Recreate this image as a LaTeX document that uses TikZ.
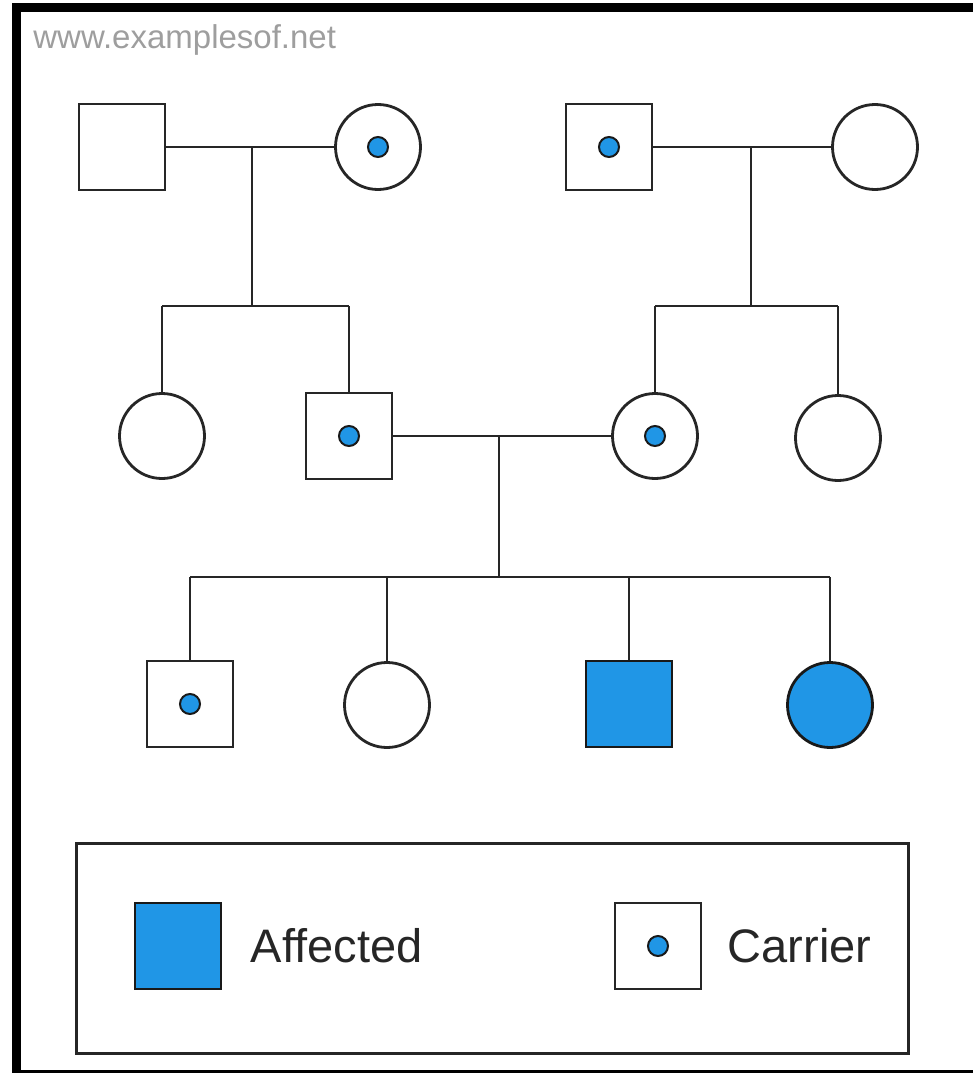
\documentclass[tikz,border=0pt]{standalone}
\usepackage{fontspec}
\setmainfont{Liberation Sans}
\usetikzlibrary{positioning}
\definecolor{affblue}{RGB}{32,150,230}

\begin{document}
\begin{tikzpicture}[x=1pt,y=-1pt,line width=2.8pt,draw=black!85,
  male/.style={rectangle,draw,minimum size=86pt,inner sep=0pt},
  female/.style={circle,draw,minimum size=85pt,inner sep=0pt},
  affected/.style={fill=affblue,draw=black!90},
  carrier/.style={path picture={\filldraw[fill=affblue,draw=black!90,line width=2pt]
    (path picture bounding box.center) circle (10pt);}},
  key/.style={font=\fontsize{47}{52}\selectfont,inner sep=0pt,text=black!85}]
  \useasboundingbox (0,0) rectangle (972,1073);
  \draw[black,line width=9pt] (16.5,7.5) rectangle (990,1074.5);
  \node[anchor=west,inner sep=0pt,text=black!38,font=\fontsize{33}{36}\selectfont] (web) at (32,40) {www.examplesof.net};

  % first generation
  \node[male] (GF1) at (122,147) {};
  \node[female,carrier] (GM1) at (378,147) {};
  \node[male,carrier] (GF2) at (609,147) {};
  \node[female] (GM2) at (875,147) {};
  % second generation
  \node[female] (D1) at (162,436) {};
  \node[male,carrier] (F) at (349,436) {};
  \node[female,carrier] (M) at (655,436) {};
  \node[female] (D2) at (838,438) {};
  % third generation
  \node[male,carrier] (C1) at (190,704) {};
  \node[female] (C2) at (387,705) {};
  \node[male,affected] (C3) at (629,704) {};
  \node[female,affected] (C4) at (830,705) {};

  \coordinate (U1) at (252,147);
  \coordinate (S1) at (252,306);
  \coordinate (U2) at (751,147);
  \coordinate (S2) at (751,306);
  \coordinate (U3) at (499,436);
  \coordinate (S3) at (499,577);

  \draw (GF1) -- (GM1);
  \draw (U1) -- (S1);
  \draw (S1 -| D1) -- (S1 -| F);
  \draw (S1 -| D1) -- (D1);
  \draw (S1 -| F) -- (F);

  \draw (GF2) -- (GM2);
  \draw (U2) -- (S2);
  \draw (S2 -| M) -- (S2 -| D2);
  \draw (S2 -| M) -- (M);
  \draw (S2 -| D2) -- (D2);

  \draw (F) -- (M);
  \draw (U3) -- (S3);
  \draw (S3 -| C1) -- (S3 -| C4);
  \draw (S3 -| C1) -- (C1);
  \draw (S3 -| C2) -- (C2);
  \draw (S3 -| C3) -- (C3);
  \draw (S3 -| C4) -- (C4);

  % legend
  \node[draw,minimum width=832pt,minimum height=210pt,inner sep=0pt] (legend) at (492.5,948.5) {};
  \node[male,affected] (LA) at (178,946) {};
  \node[key,right=27pt of LA] (LAtext) {Affected};
  \node[male,carrier] (LC) at (658,946) {};
  \node[key,right=24pt of LC] (LCtext) {Carrier};
\end{tikzpicture}
\end{document}
